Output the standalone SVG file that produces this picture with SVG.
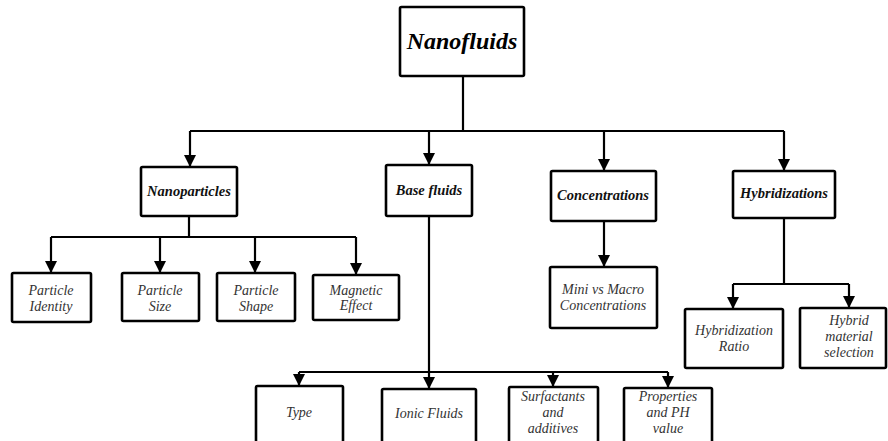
<svg xmlns="http://www.w3.org/2000/svg" width="888" height="441" viewBox="0 0 888 441">
<defs>
<marker id="ah" markerUnits="userSpaceOnUse" markerWidth="12" markerHeight="12" refX="5" refY="10" orient="0" viewBox="0 0 10 10">
<path d="M0,0 L10,0 L5,10 Z" fill="#000"/>
</marker>
<style>
.box{fill:#fff;stroke:#000;stroke-width:2.6}
.ln{fill:none;stroke:#000;stroke-width:2.2}
.ar{fill:none;stroke:#000;stroke-width:2.2;marker-end:url(#ah)}
text{font-family:'Liberation Serif','Tinos','Times New Roman','Nimbus Roman','DejaVu Serif',serif;font-style:italic;text-anchor:middle}
.t0{font-weight:bold;font-size:24px;fill:#000}
.t1{font-weight:bold;font-size:14.5px;fill:#111}
.t2{font-size:14px;fill:#333}
</style>
</defs>
<rect width="888" height="441" fill="#fff"/>
<g id="connectors">
<path class="ln" d="M463,76 V131 M190,131 H784"/>
<path class="ar" d="M190,131 V167"/>
<path class="ar" d="M429,131 V165"/>
<path class="ar" d="M604,131 V171"/>
<path class="ar" d="M784,131 V171"/>
<path class="ln" d="M189,216 V237 M51,237 H356"/>
<path class="ar" d="M51,237 V273"/>
<path class="ar" d="M160,237 V273"/>
<path class="ar" d="M255,237 V273"/>
<path class="ar" d="M356,237 V275"/>
<path class="ln" d="M429,216 V372 M299,372 H668"/>
<path class="ar" d="M299,372 V386"/>
<path class="ar" d="M429,372 V389"/>
<path class="ar" d="M553,372 V387"/>
<path class="ar" d="M668,372 V388"/>
<path class="ar" d="M604,221 V267"/>
<path class="ln" d="M784,218 V284 M733,284 H849"/>
<path class="ar" d="M733,284 V309"/>
<path class="ar" d="M849,284 V308"/>
</g>
<g id="nanofluids"><rect class="box" x="400" y="7" width="124" height="69" rx="1.5"/><text class="t0" x="462" y="49" font-family="Liberation Serif, serif">Nanofluids</text></g>
<g id="nanoparticles"><rect class="box" x="141" y="167" width="96" height="49" rx="1.5"/><text class="t1" x="189" y="196">Nanoparticles</text></g>
<g id="basefluids"><rect class="box" x="386" y="165" width="86" height="51" rx="1.5"/><text class="t1" x="429" y="195">Base fluids</text></g>
<g id="concentrations"><rect class="box" x="551" y="171" width="105" height="50" rx="1.5"/><text class="t1" x="603" y="200">Concentrations</text></g>
<g id="hybridizations"><rect class="box" x="733" y="171" width="102" height="47" rx="1.5"/><text class="t1" x="784" y="198">Hybridizations</text></g>
<g id="particle-identity"><rect class="box" x="12" y="273" width="79" height="49" rx="1.5"/><text class="t2" x="51" y="295">Particle</text><text class="t2" x="51" y="311">Identity</text></g>
<g id="particle-size"><rect class="box" x="122" y="273" width="77" height="48" rx="1.5"/><text class="t2" x="160" y="295">Particle</text><text class="t2" x="160" y="311">Size</text></g>
<g id="particle-shape"><rect class="box" x="217" y="273" width="78" height="48" rx="1.5"/><text class="t2" x="256" y="295">Particle</text><text class="t2" x="256" y="311">Shape</text></g>
<g id="magnetic-effect"><rect class="box" x="313" y="275" width="86" height="45" rx="1.5"/><text class="t2" x="356" y="295">Magnetic</text><text class="t2" x="356" y="310">Effect</text></g>
<g id="mini-macro"><rect class="box" x="550" y="267" width="107" height="61" rx="1.5"/><text class="t2" x="603" y="294">Mini vs Macro</text><text class="t2" x="603" y="310">Concentrations</text></g>
<g id="hybridization-ratio"><rect class="box" x="685" y="309" width="98" height="59" rx="1.5"/><text class="t2" x="734" y="335">Hybridization</text><text class="t2" x="734" y="351">Ratio</text></g>
<g id="hybrid-material"><rect class="box" x="800" y="308" width="86" height="60" rx="1.5"/><text class="t2" x="849" y="325">Hybrid</text><text class="t2" x="849" y="341">material</text><text class="t2" x="849" y="357">selection</text></g>
<g id="type"><rect class="box" x="256" y="386" width="87" height="60" rx="1.5"/><text class="t2" x="299" y="417">Type</text></g>
<g id="ionic-fluids"><rect class="box" x="382" y="389" width="94" height="57" rx="1.5"/><text class="t2" x="429" y="418">Ionic Fluids</text></g>
<g id="surfactants"><rect class="box" x="509" y="387" width="89" height="59" rx="1.5"/><text class="t2" x="553" y="401">Surfactants</text><text class="t2" x="553" y="417">and</text><text class="t2" x="553" y="433">additives</text></g>
<g id="properties"><rect class="box" x="624" y="388" width="88" height="58" rx="1.5"/><text class="t2" x="668" y="401">Properties</text><text class="t2" x="668" y="417">and PH</text><text class="t2" x="668" y="433">value</text></g>
</svg>
